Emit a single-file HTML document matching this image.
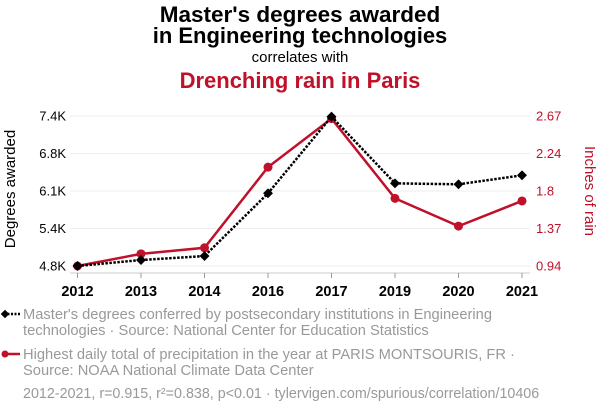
<!DOCTYPE html>
<html><head><meta charset="utf-8"><style>
body{margin:0;background:#fff;width:600px;height:414px;overflow:hidden;font-family:"Liberation Sans",sans-serif}
svg text{font-family:"Liberation Sans",sans-serif}
</style></head><body>
<svg id="chart" width="600" height="414" xmlns="http://www.w3.org/2000/svg">
<text x="300" y="22" text-anchor="middle" font-size="22.5" font-weight="bold" fill="#000">Master's degrees awarded</text>
<text x="300" y="43" text-anchor="middle" font-size="22" font-weight="bold" fill="#000">in Engineering technologies</text>
<text x="300" y="62" text-anchor="middle" font-size="15" fill="#000">correlates with</text>
<text x="300" y="88" text-anchor="middle" font-size="22" font-weight="bold" fill="#c0102a">Drenching rain in Paris</text>
<text transform="translate(15,189) rotate(-90)" text-anchor="middle" font-size="15" fill="#000">Degrees awarded</text>
<text transform="translate(585,191) rotate(90)" text-anchor="middle" font-size="15" fill="#c0102a">Inches of rain</text>
<g id="grid"></g><g id="axes"></g><g id="marks"></g>
<g>
<line x1="4" y1="314" x2="20" y2="314" stroke="#000" stroke-width="2.5" stroke-dasharray="2,1.5"/>
<rect x="2" y="311" width="6" height="6" transform="rotate(45 5 314)" fill="#000"/>
<text x="23" y="319" font-size="14.7" fill="#999">Master's degrees conferred by postsecondary institutions in Engineering</text>
<text x="23" y="335" font-size="14.7" fill="#999">technologies · Source: National Center for Education Statistics</text>
</g>
<g>
<line x1="4" y1="354" x2="20" y2="354" stroke="#c0102a" stroke-width="2.5"/>
<circle cx="5" cy="354" r="3.5" fill="#c0102a"/>
<text x="23" y="359" font-size="14.7" fill="#999">Highest daily total of precipitation in the year at PARIS MONTSOURIS, FR ·</text>
<text x="23" y="375" font-size="14.7" fill="#999">Source: NOAA National Climate Data Center</text>
</g>
<text x="23" y="398" font-size="14.3" fill="#999">2012-2021, r=0.915, r²=0.838, p&lt;0.01 · tylervigen.com/spurious/correlation/10406</text>
</svg>
<script>
const years=["2012","2013","2014","2016","2017","2019","2020","2021"];
const degrees=[4800,4904,4973,6060,7390,6233,6216,6372];
const rain=[0.94,1.08,1.15,2.08,2.64,1.72,1.40,1.69];
const leftTicks=[4800,5450,6100,6750,7400];
const leftLabels=["4.8K","5.4K","6.1K","6.8K","7.4K"];
const rightTicks=[0.94,1.3725,1.805,2.2375,2.67];
const rightLabels=["0.94","1.37","1.8","2.24","2.67"];
const NS="http://www.w3.org/2000/svg";
const x0=77.5,x1=522,yTop=116,yBot=266;
const xs=i=>x0+i*(x1-x0)/(years.length-1);
const yL=v=>yBot-(v-4800)/(7400-4800)*(yBot-yTop);
const yR=v=>yBot-(v-0.94)/(2.67-0.94)*(yBot-yTop);
function mk(t,a,p){const e=document.createElementNS(NS,t);for(const k in a)e.setAttribute(k,a[k]);p.appendChild(e);return e;}
const grid=document.getElementById('grid'),axes=document.getElementById('axes'),marks=document.getElementById('marks');
leftTicks.forEach((v,i)=>{
 const g=mk('line',{x1:70,x2:530,y1:yL(v),y2:yL(v),stroke:'#eee','stroke-width':1},grid);
 
 
 const t=mk('text',{x:66,y:yL(v)+4.5,'text-anchor':'end','font-size':13,fill:'#000'},axes);t.textContent=leftLabels[i];
 
 
});
rightTicks.forEach((v,i)=>{
 const t=mk('text',{x:536,y:yR(v)+4.5,'text-anchor':'start','font-size':13,fill:'#c0102a'},axes);t.textContent=rightLabels[i];
 
 
});
const ax=mk('line',{x1:70,x2:530,y1:273,y2:273,stroke:'#ccc','stroke-width':1},axes);


years.forEach((y,i)=>{
 mk('line',{x1:xs(i),x2:xs(i),y1:273,y2:278,stroke:'#999'},axes);
 const t=mk('text',{x:xs(i),y:296,'text-anchor':'middle','font-size':14.5,'font-weight':'bold',fill:'#000'},axes);t.textContent=y;
 
 
});
const rp=mk('polyline',{points:rain.map((v,i)=>xs(i)+','+yR(v)).join(' '),fill:'none',stroke:'#c0102a','stroke-width':2.5},marks);


rain.forEach((v,i)=>{const c=mk('circle',{cx:xs(i),cy:yR(v),r:4.5,fill:'#c0102a'},marks);
 
 });
const dp=mk('polyline',{points:degrees.map((v,i)=>xs(i)+','+yL(v)).join(' '),fill:'none',stroke:'#000','stroke-width':2.5,'stroke-dasharray':'2.5,1.5'},marks);


degrees.forEach((v,i)=>{const r=mk('rect',{x:xs(i)-3.5,y:yL(v)-3.5,width:7,height:7,fill:'#000',transform:`rotate(45 ${xs(i)} ${yL(v)})`},marks);
 
 });
</script>
</body></html>
